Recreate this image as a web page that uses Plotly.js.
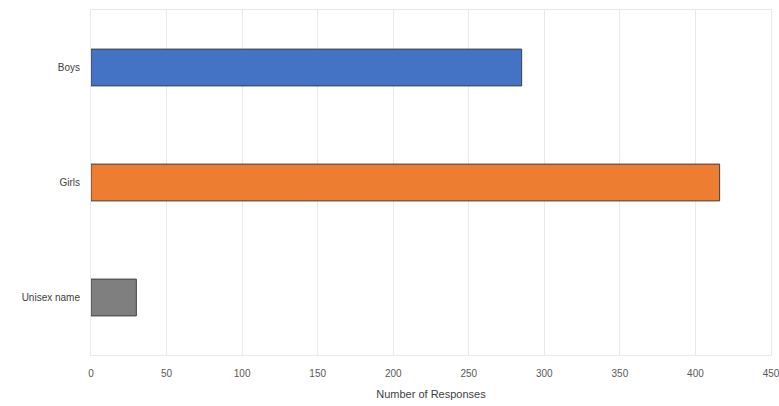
<!DOCTYPE html>
<html>
<head>
<meta charset="utf-8">
<script src="https://cdn.plot.ly/plotly-3.0.1.min.js"></script>
<style>html,body{margin:0;padding:0;background:#fff;}#chart{width:779px;height:406px;}</style>
</head>
<body>
<div id="chart"></div>
<script>
const categories = ["Boys", "Girls", "Unisex name"];
const responses = [285, 416, 30];
const barColors = ["#4472C4", "#ED7D31", "#7F7F7F"];
const xTicks = [0, 50, 100, 150, 200, 250, 300, 350, 400, 450];

const trace = {
  type: "bar",
  orientation: "h",
  y: categories,
  x: responses,
  width: 0.32,
  marker: {color: barColors, line: {color: "#404040", width: 1}},
  hoverinfo: "x+y"
};

const layout = {
  width: 779, height: 406,
  margin: {l: 91, r: 8, t: 10, b: 51},
  paper_bgcolor: "#ffffff",
  plot_bgcolor: "#ffffff",
  font: {family: "Liberation Sans, Arial, sans-serif", size: 10, color: "#595959"},
  showlegend: false,
  xaxis: {
    range: [0, 450],
    tickvals: xTicks,
    ticktext: xTicks.map(String),
    showgrid: true, gridcolor: "#e9e9e9", gridwidth: 1,
    zeroline: false,
    showline: true, linecolor: "#e9e9e9", linewidth: 1, mirror: true,
    ticks: "", ticklen: 0,
    ticklabelstandoff: 9,
    ticklabeloverflow: "allow",
    tickfont: {size: 10, color: "#595959"},
    title: {text: "Number of Responses", font: {size: 11, color: "#404040"}, standoff: 12}
  },
  yaxis: {
    autorange: "reversed",
    showgrid: false, zeroline: false,
    showline: true, linecolor: "#e9e9e9", linewidth: 1, mirror: true,
    ticks: "", ticklen: 0,
    tickfont: {size: 10, color: "#404040"},
    ticklabelstandoff: 8
  }
};

Plotly.newPlot("chart", [trace], layout, {displayModeBar: false, staticPlot: true});
</script>
</body>
</html>
